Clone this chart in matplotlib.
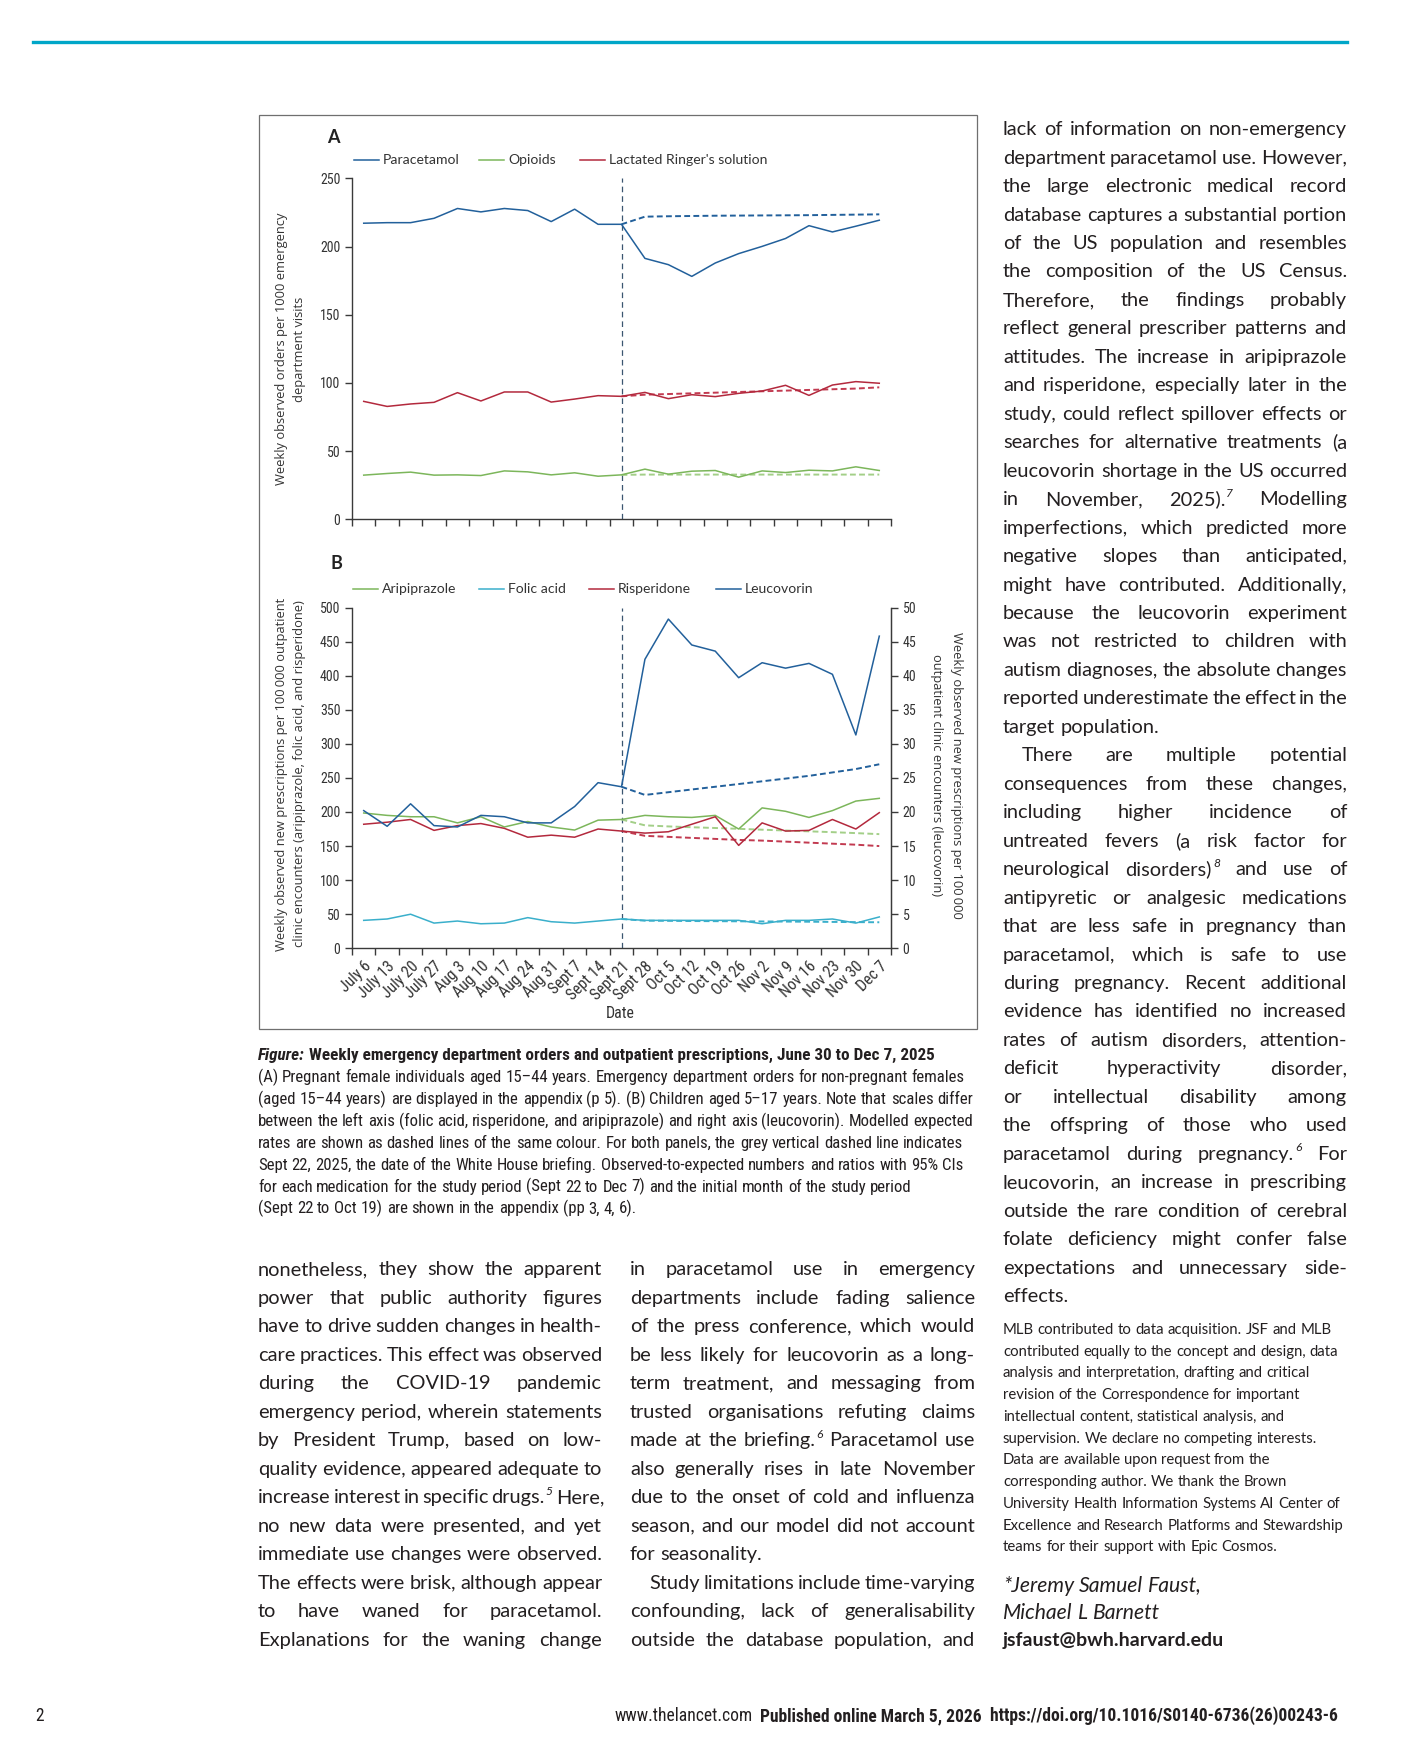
import matplotlib
matplotlib.use("Agg")
import matplotlib.pyplot as plt
from matplotlib import font_manager, patches, lines as mlines
from matplotlib.font_manager import FontProperties

# ---- data -------------------------------------------------------------
weeks = ["July 6", "July 13", "July 20", "July 27", "Aug 3", "Aug 10", "Aug 17",
         "Aug 24", "Aug 31", "Sept 7", "Sept 14", "Sept 21", "Sept 28", "Oct 5",
         "Oct 12", "Oct 19", "Oct 26", "Nov 2", "Nov 9", "Nov 16", "Nov 23",
         "Nov 30", "Dec 7"]
briefing_week = 11  # Sept 21 bin (briefing Sept 22)

paracetamol = [217.2, 217.6, 217.6, 220.8, 228.0, 225.5, 228.0, 226.5, 218.4, 227.5,
               216.4, 216.4, 191.4, 186.8, 178.2, 188.0, 194.9, 200.2, 206.0, 215.4,
               210.8, 215.0, 219.4]
paracetamol_exp = [216.4, 222.0, 222.3, 222.5, 222.7, 222.8, 222.9, 223.0, 223.1,
                   223.3, 223.5, 223.7]
opioids = [32.4, 33.6, 34.6, 32.4, 32.6, 32.1, 35.5, 34.8, 32.6, 34.1, 31.6, 32.6,
           36.8, 33.1, 35.3, 35.8, 30.9, 35.5, 34.3, 36.0, 35.5, 38.5, 35.8]
opioids_exp = [32.6, 32.8, 32.8, 32.8, 32.8, 32.8, 32.8, 32.8, 32.8, 32.8, 32.8, 32.8]
ringer = [86.5, 82.8, 84.6, 85.8, 92.9, 86.8, 93.4, 93.4, 86.0, 88.2, 90.7, 90.2,
          93.1, 88.5, 91.4, 90.0, 92.4, 94.1, 98.3, 90.9, 98.5, 101.0, 99.8]
ringer_exp = [90.2, 91.4, 91.9, 92.4, 92.9, 93.4, 93.9, 94.4, 94.9, 95.4, 95.9, 96.8]

aripiprazole = [198.5, 195, 193, 193, 184, 193, 178, 186, 178, 173.5, 188, 189,
                195, 193, 192, 195, 175, 206, 201, 192, 202, 216, 220]
aripiprazole_exp = [189, 180.4, 178.8, 177.6, 176.5, 175.3, 174.0, 172.8, 171.6,
                    170.4, 169.0, 167.5]
folic = [41, 43, 50, 37, 40, 36, 37, 45, 39, 37, 40, 43, 41, 41, 41, 41, 41, 36,
         41, 41, 43, 37, 46]
folic_exp = [43, 40.5, 40.3, 40.0, 39.8, 39.6, 39.4, 39.2, 39.0, 38.7, 38.4, 38.2]
risperidone = [182, 185, 189, 173, 180, 183, 176, 163, 166, 163, 175, 172, 169, 171,
               182, 193, 151, 184, 172, 173, 189, 175, 199]
risperidone_exp = [172, 165, 163.5, 162, 160.5, 159, 158, 156.5, 155, 153.5, 152, 150]
leucovorin = [20.2, 17.9, 21.2, 18.0, 17.8, 19.5, 19.3, 18.4, 18.4, 20.8, 24.3, 23.7,
              42.4, 48.3, 44.5, 43.6, 39.7, 41.9, 41.1, 41.8, 40.2, 31.3, 45.8]
leucovorin_exp = [23.7, 22.5, 22.9, 23.3, 23.7, 24.1, 24.5, 24.9, 25.3, 25.8, 26.3, 27.0]

legend_a = ["Paracetamol", "Opioids", "Lactated Ringer's solution"]
legend_b = ["Aripiprazole", "Folic acid", "Risperidone", "Leucovorin"]

caption_title = "Weekly emergency department orders and outpatient prescriptions, June 30 to Dec 7, 2025"
caption = [
    "(A) Pregnant female individuals aged 15\u201344 years. Emergency department orders for non-pregnant females",
    "(aged 15\u201344 years) are displayed in the appendix (p 5). (B) Children aged 5\u201317 years. Note that scales differ",
    "between the left axis (folic acid, risperidone, and aripiprazole) and right axis (leucovorin). Modelled expected",
    "rates are shown as dashed lines of the same colour. For both panels, the grey vertical dashed line indicates",
    "Sept 22, 2025, the date of the White House briefing. Observed-to-expected numbers and ratios with 95% CIs",
    "for each medication for the study period (Sept 22 to Dec 7) and the initial month of the study period",
    "(Sept 22 to Oct 19) are shown in the appendix (pp 3, 4, 6).",
]

left_col = [
    "nonetheless, they show the apparent",
    "power that public authority figures",
    "have to drive sudden changes in health-",
    "care practices. This effect was observed",
    "during the COVID-19 pandemic",
    "emergency period, wherein statements",
    "by President Trump, based on low-",
    "quality evidence, appeared adequate to",
    "increase interest in specific drugs.^5 Here,",
    "no new data were presented, and yet",
    "immediate use changes were observed.",
    "The effects were brisk, although appear",
    "to have waned for paracetamol.",
    "Explanations for the waning change",
]
mid_col = [
    "in paracetamol use in emergency",
    "departments include fading salience",
    "of the press conference, which would",
    "be less likely for leucovorin as a long-",
    "term treatment, and messaging from",
    "trusted organisations refuting claims",
    "made at the briefing.^6 Paracetamol use",
    "also generally rises in late November",
    "due to the onset of cold and influenza",
    "season, and our model did not account",
    "for seasonality.",
    "Study limitations include time-varying",
    "confounding, lack of generalisability",
    "outside the database population, and",
]
right_col = [
    "lack of information on non-emergency",
    "department paracetamol use. However,",
    "the large electronic medical record",
    "database captures a substantial portion",
    "of the US population and resembles",
    "the composition of the US Census.",
    "Therefore, the findings probably",
    "reflect general prescriber patterns and",
    "attitudes. The increase in aripiprazole",
    "and risperidone, especially later in the",
    "study, could reflect spillover effects or",
    "searches for alternative treatments (a",
    "leucovorin shortage in the US occurred",
    "in November, 2025).^7 Modelling",
    "imperfections, which predicted more",
    "negative slopes than anticipated,",
    "might have contributed. Additionally,",
    "because the leucovorin experiment",
    "was not restricted to children with",
    "autism diagnoses, the absolute changes",
    "reported underestimate the effect in the",
    "target population.",
    "There are multiple potential",
    "consequences from these changes,",
    "including higher incidence of",
    "untreated fevers (a risk factor for",
    "neurological disorders)^8 and use of",
    "antipyretic or analgesic medications",
    "that are less safe in pregnancy than",
    "paracetamol, which is safe to use",
    "during pregnancy. Recent additional",
    "evidence has identified no increased",
    "rates of autism disorders, attention-",
    "deficit hyperactivity disorder,",
    "or intellectual disability among",
    "the offspring of those who used",
    "paracetamol during pregnancy.^6 For",
    "leucovorin, an increase in prescribing",
    "outside the rare condition of cerebral",
    "folate deficiency might confer false",
    "expectations and unnecessary side-",
    "effects.",
]
small_note = [
    "MLB contributed to data acquisition. JSF and MLB",
    "contributed equally to the concept and design, data",
    "analysis and interpretation, drafting and critical",
    "revision of the Correspondence for important",
    "intellectual content, statistical analysis, and",
    "supervision. We declare no competing interests.",
    "Data are available upon request from the",
    "corresponding author. We thank the Brown",
    "University Health Information Systems AI Center of",
    "Excellence and Research Platforms and Stewardship",
    "teams for their support with Epic Cosmos.",
]
authors = ["*Jeremy Samuel Faust,", "Michael L Barnett"]
email = "jsfaust@bwh.harvard.edu"

# ---- styling ----------------------------------------------------------
BLUE = "#22609b"
GREEN = "#7cb65b"
GREEN_D = "#a3cf88"
RED = "#b3293d"
RED_D = "#c23a50"
CYAN = "#3aafcb"
VLINE = "#3b5670"
AXC = "#3a3a3a"
INK = "#231f20"

W, H = 1420, 1742
fig = plt.figure(figsize=(W / 100, H / 100), dpi=100)
fig.patch.set_facecolor("white")
renderer = fig.canvas.get_renderer()


def pick(names):
    for n in names:
        try:
            font_manager.findfont(FontProperties(family=n), fallback_to_default=False)
            return n
        except ValueError:
            pass
    return "DejaVu Sans"


COND = pick(["Liberation Sans Narrow", "Roboto Condensed", "Open Sans Condensed", "Lato"])
HUM = pick(["Lato", "Open Sans", "Noto Sans"])
WIDE = pick(["Open Sans", "Noto Sans", "Lato"])


def X(px):
    return px / W


def Y(py):
    return 1 - py / H


def fp(family, size, weight="normal", style="normal"):
    return FontProperties(family=[family, "DejaVu Sans"], size=size,
                          weight=weight, style=style)


def text_w(s, prop):
    return renderer.get_text_width_height_descent(s, prop, ismath=False)[0]


def fit(s, family, target, weight="normal", style="normal"):
    return 10 * target / text_w(s, fp(family, 10, weight, style))


def split_sup(word):
    if "^" in word:
        b, s = word.split("^")
        return b, s
    return word, ""


def line_widths(line, prop, sprop):
    out = []
    for w in line.split():
        b, s = split_sup(w)
        out.append(text_w(b, prop) + (text_w(s, sprop) + 1 if s else 0))
    return out


def justified_size(blocks, family, ref=10, quant=0.85):
    # font size at which most justified lines fit with normal word spacing
    prop = fp(family, ref)
    sprop = fp(family, ref * 0.6, style="italic")
    space = text_w("a a", prop) - text_w("aa", prop)
    ratios = []
    for lines_, x0, x1, last, indent in blocks:
        for i, line in enumerate(lines_):
            if i in last:
                continue
            ws = line_widths(line, prop, sprop)
            avail = x1 - x0 - (19 if i in indent else 0)
            ratios.append((sum(ws) + space * (len(ws) - 1)) / avail)
    ratios.sort()
    return ref / ratios[int(quant * (len(ratios) - 1))]


def draw_block(lines_, x0, x1, y0, dy, family, size, justify=True, last=(),
               indent=(), ind_px=19, color=INK, weight="normal", style="normal",
               base=0.26):
    prop = fp(family, size, weight, style)
    sprop = fp(family, size * 0.6, style="italic")
    space = text_w("a a", prop) - text_w("aa", prop)
    spx = size / 0.72
    for i, line in enumerate(lines_):
        yb = y0 + i * dy + base * spx
        xs = x0 + (ind_px if i in indent else 0)
        words = line.split()
        ws = line_widths(line, prop, sprop)
        if justify and i not in last and len(words) > 1:
            gap = max((x1 - xs - sum(ws)) / (len(words) - 1), 0.55 * space)
        else:
            gap = space
        x = xs
        for word, w in zip(words, ws):
            b, s = split_sup(word)
            fig.text(X(x), Y(yb), b, fontproperties=prop, color=color, va="baseline")
            if s:
                bw = text_w(b, prop)
                fig.text(X(x + bw + 1), Y(yb - 0.42 * spx), s, fontproperties=sprop,
                         color=color, va="baseline")
            x += w + gap


# ---- page furniture ---------------------------------------------------
fig.add_artist(mlines.Line2D([X(33), X(1347)], [Y(42), Y(42)], color="#00a6c8",
                             lw=2.4, transform=fig.transFigure))
fig.add_artist(patches.Rectangle((X(258.5), Y(1028.5)), X(976.5) - X(258.5),
                                 Y(115.5) - Y(1028.5), transform=fig.transFigure,
                                 fill=False, edgecolor="#6f6f6f", lw=0.9))

# ---- chart ------------------------------------------------------------
AX_L, AX_R = 352, 891
A_TOP, A_BOT = 178.5, 519.3
B_TOP, B_BOT = 607.5, 948.3
xs = list(range(len(weeks)))
xs_exp = xs[briefing_week:]

tick_size = fit("Sept 14", COND, 47)
num_size = 10
leg_size = fit(legend_a[2], HUM, 158)


def base_axes(top, bot):
    ax = fig.add_axes([X(AX_L), Y(bot), X(AX_R) - X(AX_L), Y(top) - Y(bot)])
    ax.set_xlim(-0.5, len(weeks) - 0.5)
    ax.set_xticks([i - 0.5 for i in range(len(weeks) + 1)])
    ax.set_xticklabels([])
    for side in ("top", "right"):
        ax.spines[side].set_visible(False)
    for side in ("left", "bottom", "right"):
        ax.spines[side].set_color(AXC)
        ax.spines[side].set_linewidth(1.0)
    ax.tick_params(which="major", direction="out", length=5.3, width=1.0, color=AXC,
                   pad=3, labelsize=num_size, labelcolor="#333333")
    ax.patch.set_alpha(0)
    ax.axvline(briefing_week, color=VLINE, lw=0.9, dashes=(4.5, 3.2), zorder=1)
    return ax


DASH = (3.0, 1.7)

axA = base_axes(A_TOP, A_BOT)
axA.set_ylim(0, 250)
axA.set_yticks(range(0, 251, 50))
for lab in axA.get_yticklabels():
    lab.set_family([COND, "DejaVu Sans"])
for obs, exp, col, colx in ((paracetamol, paracetamol_exp, BLUE, BLUE),
                            (opioids, opioids_exp, GREEN, GREEN_D),
                            (ringer, ringer_exp, RED, RED_D)):
    axA.plot(xs, obs, color=col, lw=1.1, zorder=3)
    axA.plot(xs_exp, exp, color=colx, lw=1.4, dashes=DASH, zorder=2)

axB = base_axes(B_TOP, B_BOT)
axB.set_ylim(0, 500)
axB.set_yticks(range(0, 501, 50))
axB.spines["right"].set_visible(True)
axB.set_xticks(xs, minor=True)
axB.set_xticklabels(weeks, minor=True, rotation=45, ha="right", va="top",
                    rotation_mode="anchor", fontsize=tick_size,
                    family=[COND, "DejaVu Sans"], color="#333333")
axB.tick_params(which="minor", length=0, pad=7.5)
for lab in axB.get_yticklabels():
    lab.set_family([COND, "DejaVu Sans"])
axR = axB.twinx()
axR.set_ylim(0, 50)
axR.set_yticks(range(0, 51, 5))
for side in ("top", "left", "bottom"):
    axR.spines[side].set_visible(False)
axR.spines["right"].set_color(AXC)
axR.tick_params(direction="out", length=5.3, width=1.0, color=AXC, pad=3,
                labelsize=num_size, labelcolor="#333333")
for lab in axR.get_yticklabels():
    lab.set_family([COND, "DejaVu Sans"])

for obs, exp, col, colx in ((aripiprazole, aripiprazole_exp, GREEN, GREEN_D),
                            (folic, folic_exp, CYAN, CYAN),
                            (risperidone, risperidone_exp, RED, RED_D)):
    axB.plot(xs, obs, color=col, lw=1.1, zorder=3)
    axB.plot(xs_exp, exp, color=colx, lw=1.4, dashes=DASH, zorder=2)
axR.plot(xs, leucovorin, color=BLUE, lw=1.1, zorder=3)
axR.plot(xs_exp, leucovorin_exp, color=BLUE, lw=1.4, dashes=DASH, zorder=2)

# panel letters and legends
fig.text(X(327), Y(143), "A", fontproperties=fp(HUM, 13, "bold"), color="#222222",
         va="baseline")
fig.text(X(330), Y(569), "B", fontproperties=fp(HUM, 13, "bold"), color="#222222",
         va="baseline")


def legend(names, colors, starts, y):
    for name, col, x0 in zip(names, colors, starts):
        fig.add_artist(mlines.Line2D([X(x0), X(x0 + 25)], [Y(y), Y(y)], color=col,
                                     lw=1.1, transform=fig.transFigure))
        fig.text(X(x0 + 29), Y(y), name, fontproperties=fp(HUM, leg_size),
                 color="#333333", va="center")


legend(legend_a, [BLUE, GREEN, RED], [354, 479, 580], 160)
legend(legend_b, [GREEN, CYAN, RED, BLUE], [353, 479, 589, 716], 589)

# axis titles
ylab_a = ["Weekly observed orders per 1000 emergency", "department visits"]
ylab_b = ["Weekly observed new prescriptions per 100\u2009000 outpatient",
          "clinic encounters (aripiprazole, folic acid, and risperidone)"]
ylab_r = ["Weekly observed new prescriptions per 100\u2009000",
          "outpatient clinic encounters (leucovorin)"]
ya = fit(ylab_a[0], WIDE, 272)
for txt, x in zip(ylab_a, (281, 300)):
    fig.text(X(x), Y(349), txt, rotation=90, ha="center", va="center",
             fontproperties=fp(WIDE, ya), color="#333333")
for txt, x in zip(ylab_b, (281, 300)):
    fig.text(X(x), Y(774), txt, rotation=90, ha="center", va="center",
             fontproperties=fp(WIDE, ya), color="#333333")
for txt, x in zip(ylab_r, (956, 937)):
    fig.text(X(x), Y(775), txt, rotation=270, ha="center", va="center",
             fontproperties=fp(WIDE, ya), color="#333333")
fig.text(X(620), Y(1013), "Date", ha="center", va="center",
         fontproperties=fp(COND, tick_size), color="#333333")

# ---- caption ----------------------------------------------------------
cap_size = fit(caption[2], COND, 712)
cpx = cap_size / 0.72
head = "Figure:"
title_size = min(cap_size * 1.04, fit(head + " " + caption_title, COND, 677, "bold"))
fig.text(X(258), Y(1055 + 0.3 * cpx), head,
         fontproperties=fp(COND, title_size, "bold", "italic"), color=INK, va="baseline")
fig.text(X(258 + text_w(head + " ", fp(COND, title_size, "bold", "italic"))),
         Y(1055 + 0.3 * cpx), caption_title,
         fontproperties=fp(COND, title_size, "bold"), color=INK, va="baseline")
draw_block(caption, 258, 975, 1077, 21.9, COND, cap_size, justify=False, base=0.3)

# ---- body text ----------------------------------------------------------
blocks = [(left_col, 258, 602, (), ()),
          (mid_col, 630, 975, (10,), (11,)),
          (right_col, 1003, 1347, (21, 41), (22,))]
body = justified_size(blocks, HUM)
draw_block(left_col, 258, 602, 1270, 28.5, HUM, body)
draw_block(mid_col, 630, 975, 1270, 28.5, HUM, body, last=(10,), indent=(11,))
draw_block(right_col, 1003, 1347, 130, 28.46, HUM, body, last=(21, 41), indent=(22,))

small = fit(small_note[9], HUM, 339)
draw_block(small_note, 1003, 1347, 1330, 21.75, HUM, small, justify=False)
au = fit(authors[0], HUM, 199, style="italic")
draw_block(authors, 1003, 1347, 1586, 27.5, HUM, au, justify=False, style="italic")
em = fit(email, HUM, 220, weight="bold")
draw_block([email], 1003, 1347, 1641, 27.5, HUM, em, justify=False, weight="bold")

# ---- footer -----------------------------------------------------------
foot = [("www.thelancet.com", "normal"), ("  Published online March 5, 2026", "bold"),
        ("  https://doi.org/10.1016/S0140-6736(26)00243-6", "bold")]
tot = sum(text_w(s, fp(COND, 10, w)) for s, w in foot)
fsz = 10 * 726 / tot
x = 1338 - sum(text_w(s, fp(COND, fsz, w)) for s, w in foot)
for s, w in foot:
    fig.text(X(x), Y(1721), s, fontproperties=fp(COND, fsz, w), color=INK, va="baseline")
    x += text_w(s, fp(COND, fsz, w))
fig.text(X(35), Y(1721), "2", fontproperties=fp(COND, fsz), color=INK, va="baseline")

fig.savefig("out.png", dpi=100, facecolor="white")
